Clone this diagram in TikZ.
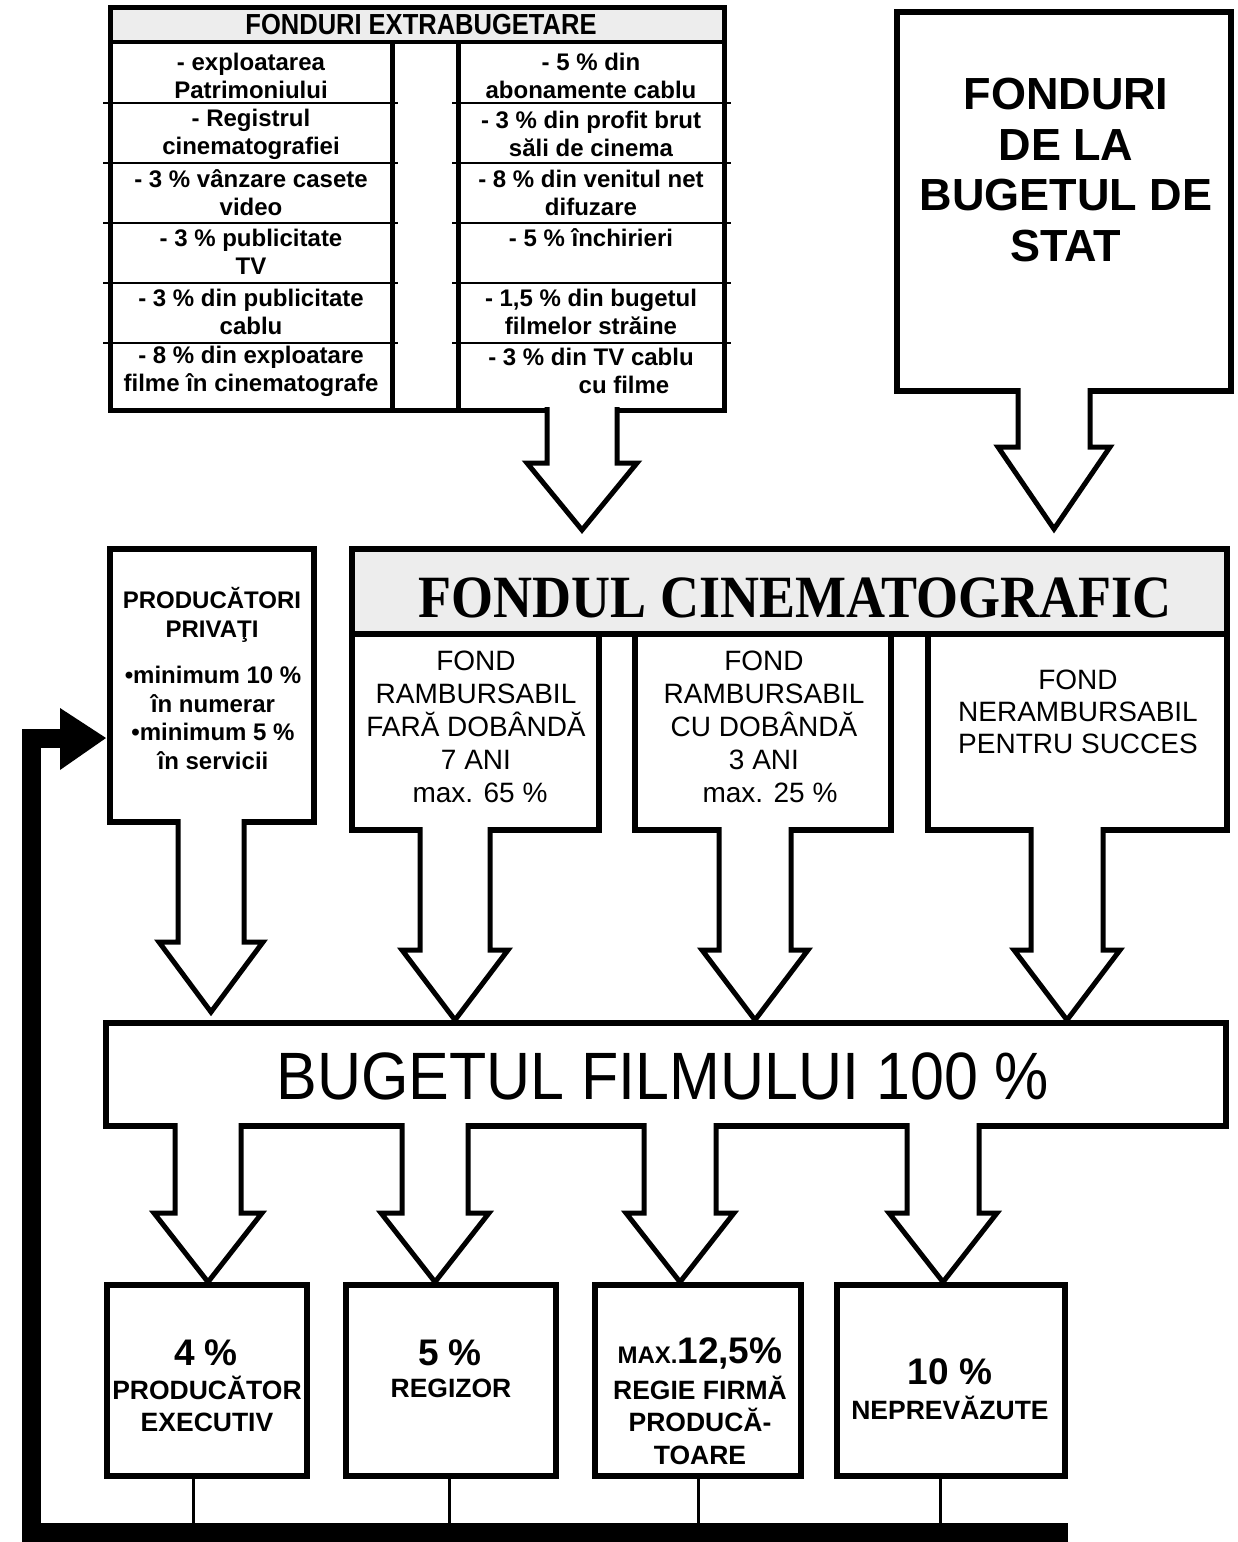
\documentclass[tikz,border=0pt]{standalone}
\usepackage{fontspec}
\usepackage{graphicx}
\setmainfont{Liberation Sans}
\newfontfamily\tnr{Liberation Serif}
\usetikzlibrary{calc}
\newcommand\fs[2]{\fontsize{#1}{#2}\selectfont}
% block arrow: #1 source node, #2 target node, #3 x centre, #4 neck y, #5 tip gap, #6 shaft half width, #7 head half width
\newcommand\barrow[7]{%
  \fill[white] let \p1=(#1.south) in ({#3pt-#6pt},{\y1+4pt}) rectangle ({#3pt+#6pt},{\y1-4pt});
  \draw[arrowline] let \p1=(#1.south), \p2=(#2.north) in
    ({#3pt-#6pt},{\y1+3pt}) -- ({#3pt-#6pt},{-#4pt}) -- ({#3pt-#7pt},{-#4pt}) --
    (#3pt,{\y2+#5pt}) -- ({#3pt+#7pt},{-#4pt}) -- ({#3pt+#6pt},{-#4pt}) -- ({#3pt+#6pt},{\y1+3pt});
}
\begin{document}
\begin{tikzpicture}[x=1pt,y=-1pt,
  box/.style={draw, line width=6pt, inner sep=0, outer sep=0},
  tbox/.style={draw, line width=5pt, inner sep=0, outer sep=0},
  band/.style={fill=black!7},
  arrowline/.style={line width=5pt, line join=miter},
  rowline/.style={line width=2pt},
  colline/.style={line width=5pt},
  cell/.style={font=\fs{24}{28}\bfseries, align=center, inner sep=0},
  fond/.style={font=\fs{28}{33}, align=center, inner sep=0},
  prodtxt/.style={font=\fs{24}{29}\bfseries, align=center, inner sep=0},
  pct/.style={font=\fs{37}{40}\bfseries, inner sep=0},
  lbl/.style={font=\fs{26.5}{32.5}\bfseries, align=center, inner sep=0},
  thinlink/.style={line width=3pt},
  fbline/.style={line width=19pt, line join=miter}
]
\useasboundingbox (0,0) rectangle (1237,1542);

% ---------- table of extra-budget funds ----------
\fill[band] (110,7) rectangle (724,42);
\node[tbox, minimum width=614, minimum height=403] (tbl) at (417,208.5) {};
\draw[line width=4pt] (110,42) -- (724,42);
\draw[colline] (392,42) -- (392,410);
\draw[colline] (458,42) -- (458,410);
\foreach \yy in {103,163,223,283,343}{
  \draw[rowline] (103,\yy) -- (398,\yy);
  \draw[rowline] (452,\yy) -- (731,\yy);
}
\node[inner sep=0] (tbltitle) at (421,25)
  {\scalebox{0.88}[1]{\fs{29}{29}\bfseries FONDURI\hspace{8pt}EXTRABUGETARE}};

\node[cell] (l1) at (251,76) {- exploatarea\\Patrimoniului};
\node[cell] (l2) at (251,134) {- Registrul\\cinematografiei};
\node[cell] (l3) at (251,193) {- 3 \% vânzare casete\\video};
\node[cell] (l4) at (251,252) {- 3 \% publicitate\\TV};
\node[cell] (l5) at (251,312) {- 3 \% din publicitate\\cablu};
\node[cell] (l6) at (251,371) {- 8 \% din exploatare\\filme în cinematografe};

\node[cell] (r1) at (591,76) {- 5 \% din\\abonamente cablu};
\node[cell] (r2) at (591,134) {- 3 \% din profit brut\\săli de cinema};
\node[cell] (r3) at (591,193) {- 8 \% din venitul net\\difuzare};
\node[cell] (r4) at (591,238) {- 5 \% închirieri};
\node[cell] (r5) at (591,312) {- 1,5 \% din bugetul\\filmelor străine};
\node[cell] (r6) at (591,371) {- 3 \% din TV cablu\\\hspace*{66pt}cu filme};

% ---------- state budget ----------
\node[box, minimum width=334, minimum height=379] (stat) at (1064,201.5) {};
\node[font=\fs{45}{50.5}\bfseries, align=center, inner sep=0] (stattxt) at (1066,170)
  {FONDURI\\DE LA\\BUGETUL DE\\STAT};

% ---------- producers ----------
\node[box, minimum width=204, minimum height=273] (prod) at (212,685.5) {};
\node[prodtxt] (prodhead) at (212,615) {PRODUCĂTORI\\PRIVAŢI};
\node[prodtxt, font=\fs{24}{28.5}\bfseries] (prodbody) at (213,718)
  {•minimum 10 \%\\în numerar\\•minimum 5 \%\\în servicii};

% ---------- cinematographic fund ----------
\node[box, band, minimum width=875, minimum height=85] (fondul) at (789.5,591.5) {};
\node[box, minimum width=247, minimum height=196] (fara) at (475.5,732) {};
\node[box, minimum width=256, minimum height=196] (cu) at (763,732) {};
\node[box, minimum width=299, minimum height=196] (neramb) at (1077.5,732) {};
\node[inner sep=0] (fondtitle) at (795,598)
  {\scalebox{0.9}[1]{\fs{60}{60}\tnr\bfseries FONDUL CINEMATOGRAFIC}};
\node[fond] (faratxt) at (476,727) {FOND\\RAMBURSABIL\\FARĂ DOBÂNDĂ\\7 ANI\\\hspace*{8pt}max. 65 \%};
\node[fond] (cutxt) at (764,727) {FOND\\RAMBURSABIL\\CU DOBÂNDĂ\\3 ANI\\\hspace*{12pt}max. 25 \%};
\node[fond, font=\fs{28}{32}] (nertxt) at (1078,712) {FOND\\NERAMBURSABIL\\PENTRU SUCCES};

% ---------- film budget ----------
\node[box, minimum width=1120, minimum height=103] (buget) at (666,1074.5) {};
\node[inner sep=0] (bugettxt) at (663,1076)
  {\scalebox{0.91}[1]{\fs{67}{67}BUGETUL FILMULUI 100 \%}};

% ---------- bottom boxes ----------
\node[box, minimum width=200, minimum height=191] (b1) at (207,1380.5) {};
\node[box, minimum width=210, minimum height=191] (b2) at (451,1380.5) {};
\node[box, minimum width=206, minimum height=191] (b3) at (698,1380.5) {};
\node[box, minimum width=228, minimum height=191] (b4) at (951,1380.5) {};
\draw[line width=4pt] (b1.north west) -- (b1.north east);
\draw[line width=4pt] (b2.north west) -- (b2.north east);
\draw[line width=4pt] (b3.north west) -- (b3.north east);
\draw[line width=4pt] (b4.north west) -- (b4.north east);

\node[pct] (p1) at (206,1353) {4 \%};
\node[lbl] (t1) at (207,1404) {PRODUCĂTOR\\EXECUTIV};
\node[pct] (p2) at (450,1353) {5 \%};
\node[lbl] (t2) at (451,1388) {REGIZOR};
\node[pct] (p3) at (700,1353) {{\fs{24}{24}MAX.}12,5\%};
\node[lbl] (t3) at (700,1420) {REGIE FIRMĂ\\PRODUCĂ-\\TOARE};
\node[pct] (p4) at (950,1372) {10 \%};
\node[lbl] (t4) at (950,1408) {NEPREVĂZUTE};

% ---------- block arrows ----------
\barrow{tbl}{fondul}{582}{463}{19}{35}{55}
\barrow{stat}{fondul}{1054}{447}{20}{36}{56}
\barrow{prod}{buget}{211}{942}{11}{33}{52}
\barrow{fara}{buget}{455}{950}{3}{35}{53}
\barrow{cu}{buget}{755}{950}{3}{36}{53}
\barrow{neramb}{buget}{1067}{950}{3}{36}{53}
\barrow{buget}{b1}{208}{1213}{3}{33}{54}
\barrow{buget}{b2}{435}{1213}{3}{33}{54}
\barrow{buget}{b3}{680}{1213}{3}{36}{54}
\barrow{buget}{b4}{943}{1213}{3}{36}{54}

% ---------- feedback line ----------
\coordinate (fbA) at (1068,1532.5);
\coordinate (fbB) at (31,1532.5);
\coordinate (fbC) at (31,738);
\coordinate (k1) at (193,1532.5);
\coordinate (k2) at (449,1532.5);
\coordinate (k3) at (698,1532.5);
\coordinate (k4) at (940,1532.5);
\draw[thinlink] (k1 |- b1.south) -- (k1);
\draw[thinlink] (k2 |- b2.south) -- (k2);
\draw[thinlink] (k3 |- b3.south) -- (k3);
\draw[thinlink] (k4 |- b4.south) -- (k4);
\draw[fbline] (fbA) -- (fbB) -- (fbC) -- ($(prod.west |- fbC)+(-40,0)$);
\fill ($(prod.west |- fbC)+(-4,0)$) -- ++(-46,-30) -- ++(0,62) -- cycle;
\end{tikzpicture}
\end{document}
